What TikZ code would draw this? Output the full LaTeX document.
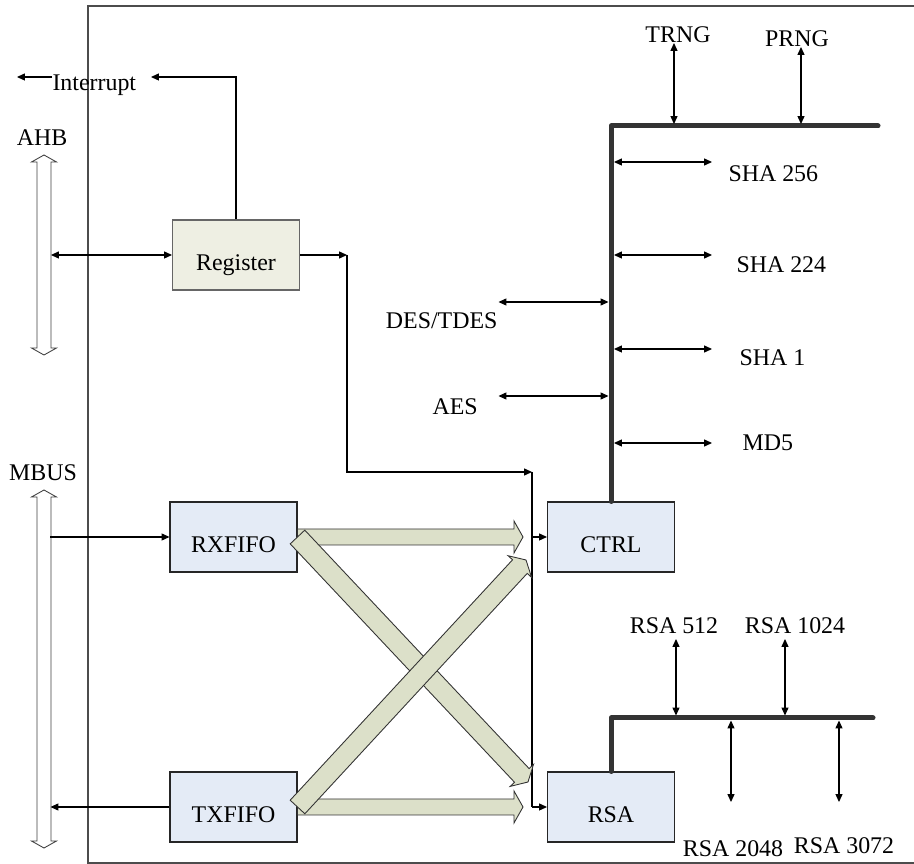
\documentclass[tikz,border=0pt]{standalone}
\usepackage{fontspec}
\setmainfont{Liberation Serif}
\usetikzlibrary{arrows.meta,calc}

\definecolor{boxblue}{HTML}{E4EBF6}
\definecolor{regbeige}{HTML}{EEEFE3}
\definecolor{fatgreen}{HTML}{DCE0C9}
\definecolor{busgray}{HTML}{333333}

\tikzset{
  blk/.style={draw=black!85, minimum width=2.54cm, minimum height=1.4cm, inner sep=0pt, text height=0.62cm, text depth=0pt},
  bluebox/.style={blk, fill=boxblue},
  regbox/.style={blk, fill=regbeige, draw=black!60},
  lbl/.style={inner sep=0pt},
  arr/.style={-{Triangle[length=4.5pt,width=4pt]}},
  tail/.style={{Triangle[length=4.5pt,width=4pt]}-},
  both/.style={{Triangle[length=4.5pt,width=4pt]}-{Triangle[length=4.5pt,width=4pt]}},
  bus/.style={line width=0.1cm, draw=busgray, line cap=round, line join=round},
  fat/.style={draw=black!80, fill=fatgreen, line width=0.5pt},
  hollow/.style={draw=black!75, fill=white, line width=0.5pt},
}

% wide data arrow from #2 to #3, #1 = half width of the shaft
\newcommand{\fatarrow}[3][0.16cm]{%
  \coordinate (fh) at ($(#3)!0.18cm!(#2)$);
  \filldraw[fat] ($(#2)!#1!-90:(#3)$) -- ($(fh)!#1!-90:(#3)$) -- ($(fh)!0.32cm!-90:(#3)$)
    -- (#3) -- ($(fh)!0.32cm!90:(#3)$) -- ($(fh)!#1!90:(#3)$) -- ($(#2)!#1!90:(#3)$) -- cycle;}

% hollow two-way bus arrow: x, top, bottom
\newcommand{\hollowbus}[3]{%
  \draw[hollow] (#1,#2) -- (#1+12.5,#2+7) -- (#1+7,#2+7) -- (#1+7,#3-7) -- (#1+12.5,#3-7) -- (#1,#3)
    -- (#1-12.5,#3-7) -- (#1-7,#3-7) -- (#1-7,#2+7) -- (#1-12.5,#2+7) -- cycle;}

\begin{document}
\begin{tikzpicture}[x=0.02cm, y=-0.02cm, line width=0.6pt, font=\fontsize{13.6}{16}\selectfont]
        \useasboundingbox (0,0) rectangle (914,864);

        % the frame
        \draw[black!70] (914,6) -- (88,6) -- (88,863) -- (914,863);

        % the blocks
        \node[regbox] (reg) at (236,255) {Register};
        \node[bluebox] (rx) at (233.5,537) {RXFIFO};
        \node[bluebox] (tx) at (233.5,807) {TXFIFO};
        \node[bluebox] (ctrl) at (611,537) {CTRL};
        \node[bluebox] (rsa) at (611,807) {RSA};

        % the outside buses
        \node[lbl, anchor=base] (ahb) at (42,146) {AHB};
        \node[lbl, anchor=base] (mbus) at (43,481) {MBUS};
        \hollowbus{44}{155}{355}
        \hollowbus{44}{490}{848}

        \draw[both] (reg.west) -- ++(-121,0);
        \draw[tail] (rx.west) -- ++(-119,0);
        \draw[arr] (tx.west) -- ++(-119,0);

        % interrupt
        \coordinate (irq) at (151,77);
        \node[lbl, anchor=base west] (intr) at (52,91) {Interrupt};
        \draw[arr] (reg.north) |- (irq);
        \draw[arr] (intr.west |- irq) -- ++(-35,0);

        % register to CTRL and RSA
        \coordinate (rc) at (347,255);
        \coordinate (fk) at (532,472);
        \draw[arr] (reg.east) -- (rc);
        \draw[arr] (rc) |- (fk);
        \draw (fk) -- (fk |- rsa.west);
        \draw[arr] (fk |- ctrl.west) -- (ctrl.west);
        \draw[arr] (fk |- rsa.west) -- (rsa.west);

        % the data arrows
        \coordinate (t1) at (523,537);
        \coordinate (t2) at (523,807);
        \coordinate (t3) at (528,782);
        \coordinate (t4) at (526,560);
        \fatarrow{rx.east}{t1}
        \fatarrow{tx.east}{t2}
        \fatarrow[0.2cm]{rx.east}{t3}
        \fatarrow[0.2cm]{tx.east}{t4}

        % the crypto bus
        \coordinate (ctop) at (611,126);
        \coordinate (cend) at (878,126);
        \draw[bus] (ctrl.north) -- (ctop) -- (cend);

        \node[lbl, anchor=base] (trng) at (678,43) {TRNG};
        \node[lbl, anchor=base] (prng) at (797,47) {PRNG};
        \draw[both] (674,124) -- (674,43);
        \draw[both] (801,124) -- (801,47);

        \node[lbl, anchor=base west] (sha256) at (728,182) {SHA 256};
        \node[lbl, anchor=base west] (sha224) at (736,273) {SHA 224};
        \node[lbl, anchor=base west] (sha1) at (739,366) {SHA 1};
        \node[lbl, anchor=base west] (md5) at (742,451) {MD5};
        \draw[both] (614,162) -- ++(98,0);
        \draw[both] (614,255) -- ++(98,0);
        \draw[both] (614,349) -- ++(98,0);
        \draw[both] (614,443) -- ++(98,0);

        \node[lbl, anchor=base east] (des) at (498,329) {DES/TDES};
        \node[lbl, anchor=base west] (aes) at (432,415) {AES};
        \draw[both] (608.5,302) -- ++(-110,0);
        \draw[both] (608.5,396) -- ++(-110,0);

        % the RSA bus
        \coordinate (rtop) at (611,718);
        \coordinate (rend) at (873,718);
        \draw[bus] (rsa.north) -- (rtop) -- (rend);

        \node[lbl, anchor=base] (rsa512) at (674,634) {RSA 512};
        \node[lbl, anchor=base] (rsa1024) at (795,634) {RSA 1024};
        \node[lbl, anchor=base] (rsa2048) at (733,857) {RSA 2048};
        \node[lbl, anchor=base] (rsa3072) at (844,854) {RSA 3072};
        \draw[both] (676,715.5) -- (676,639);
        \draw[both] (785,715.5) -- (785,639);
        \draw[both] (731,720.5) -- (731,802);
        \draw[both] (839,720.5) -- (839,802);

\end{tikzpicture}
\end{document}
